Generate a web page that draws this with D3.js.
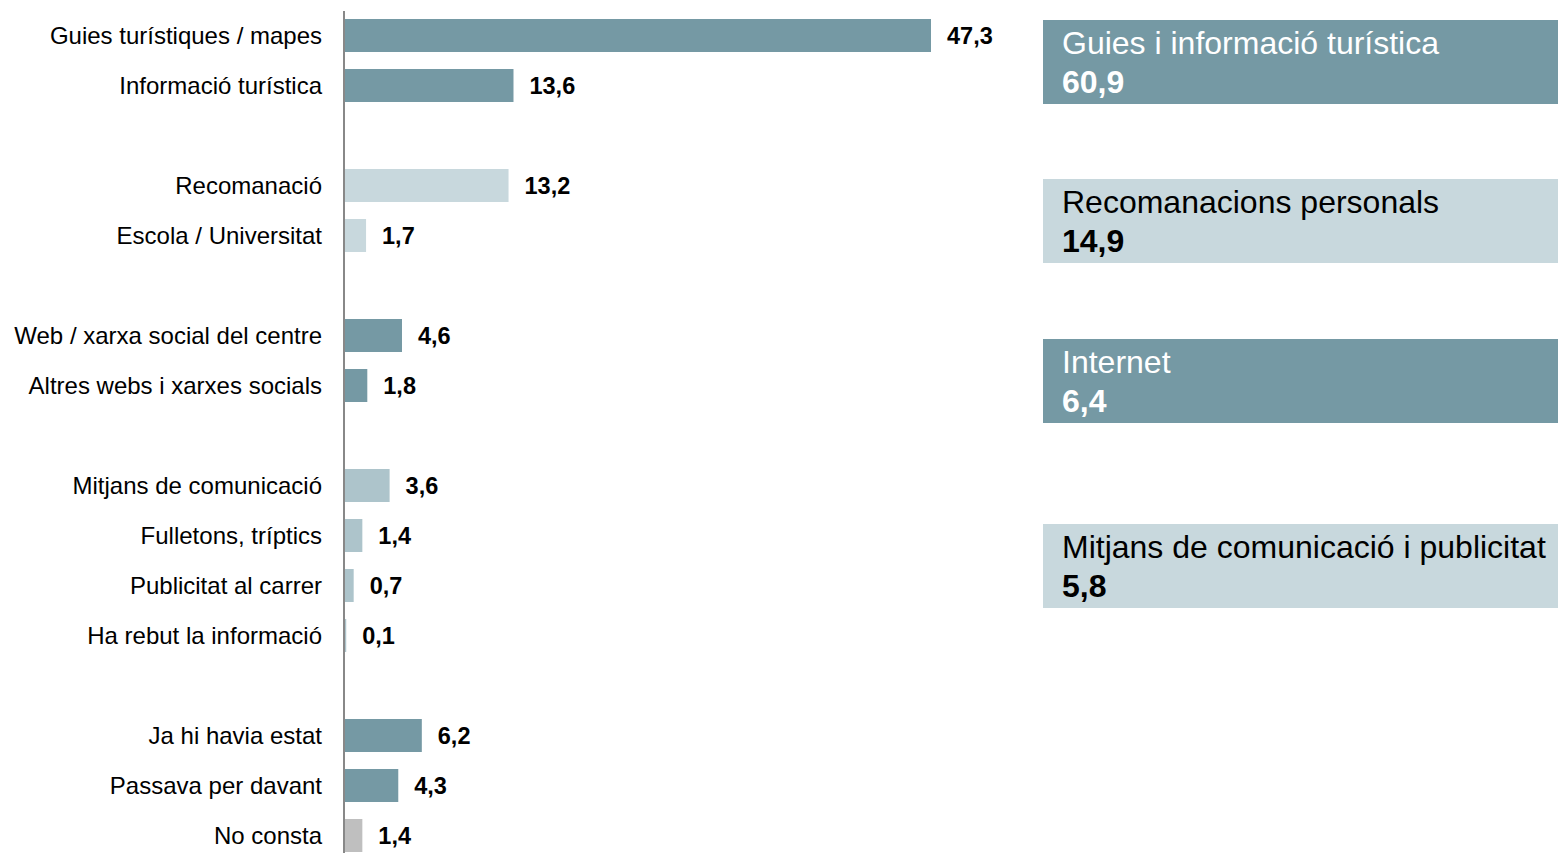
<!DOCTYPE html>
<html>
<head>
<meta charset="utf-8">
<script src="https://cdn.jsdelivr.net/npm/d3@7"></script>
<style>
  html, body { margin: 0; padding: 0; background: #fff; }
  svg { display: block; font-family: "Liberation Sans", Arial, sans-serif; }
</style>
</head>
<body>
<div id="chart"></div>
<script>
// --- data ---
const categories = [
  "Guies turístiques / mapes", "Informació turística",
  "Recomanació", "Escola / Universitat",
  "Web / xarxa social del centre", "Altres webs i xarxes socials",
  "Mitjans de comunicació", "Fulletons, tríptics", "Publicitat al carrer", "Ha rebut la informació",
  "Ja hi havia estat", "Passava per davant", "No consta"
];
const values = [47.3, 13.6, 13.2, 1.7, 4.6, 1.8, 3.6, 1.4, 0.7, 0.1, 6.2, 4.3, 1.4];
const groupOf = [0, 0, 1, 1, 2, 2, 3, 3, 3, 3, 4, 4, 5];
const groupColors = ["#7599a4", "#c8d8dd", "#7599a4", "#adc4cb", "#7599a4", "#bfbfbf"];

const panelTitles = ["Guies i informació turística", "Recomanacions personals", "Internet", "Mitjans de comunicació i publicitat"];
const panelValues = [60.9, 14.9, 6.4, 5.8];
const panelFill = ["#7599a4", "#c8d8dd", "#7599a4", "#c8d8dd"];
const panelInk = ["#ffffff", "#000000", "#ffffff", "#000000"];

// --- layout ---
const W = 1558, H = 853;
const axisX = 344;
const panelTop = [20, 179, 339, 524], panelH = 84, panelX = 1043;
const fmt = (v) => v.toFixed(1).replace(".", ",");

// slot keys: categories with a blank slot between groups
const slots = [];
categories.forEach((c, i) => {
  if (i > 0 && groupOf[i] !== groupOf[i - 1] && groupOf[i] !== 5) slots.push("gap" + i);
  slots.push(c);
});

const svg = d3.select("#chart").append("svg").attr("width", W).attr("height", H);

const y = d3.scaleBand().domain(slots).range([10.5, 860.5]).paddingInner(0.34).paddingOuter(0.17);
const x = d3.scaleLinear().domain([0, 47.3]).range([axisX + 1, 931]);
const mid = (d) => y(d) + y.bandwidth() / 2;

svg.append("g").selectAll("rect").data(categories).join("rect")
  .attr("x", x(0)).attr("y", (d) => y(d))
  .attr("width", (d, i) => x(values[i]) - x(0)).attr("height", y.bandwidth())
  .attr("fill", (d, i) => groupColors[groupOf[i]]);

svg.append("line").attr("x1", axisX).attr("x2", axisX).attr("y1", 11).attr("y2", H)
  .attr("stroke", "#888").attr("stroke-width", 2);

svg.append("g").selectAll("text").data(categories).join("text")
  .attr("x", 322).attr("y", (d) => mid(d) + 8)
  .attr("text-anchor", "end").style("font-size", "24px").attr("fill", "#000").text((d) => d);

svg.append("g").selectAll("text").data(categories).join("text")
  .attr("x", (d, i) => x(values[i]) + 16).attr("y", (d) => mid(d) + 8)
  .style("font-size", "23.5px").style("font-weight", "bold").attr("fill", "#000")
  .text((d, i) => fmt(values[i]));

// summary panels on the right
const p = svg.append("g").selectAll("g").data(panelTitles).join("g")
  .attr("transform", (d, i) => `translate(${panelX},${panelTop[i]})`);
p.append("rect").attr("width", W - panelX).attr("height", panelH).attr("fill", (d, i) => panelFill[i]);
p.append("text").attr("x", 19).attr("y", 34).style("font-size", "32px")
  .attr("fill", (d, i) => panelInk[i]).text((d) => d);
p.append("text").attr("x", 19).attr("y", 73).style("font-size", "32px").style("font-weight", "bold")
  .attr("fill", (d, i) => panelInk[i]).text((d, i) => fmt(panelValues[i]));
</script>
</body>
</html>
